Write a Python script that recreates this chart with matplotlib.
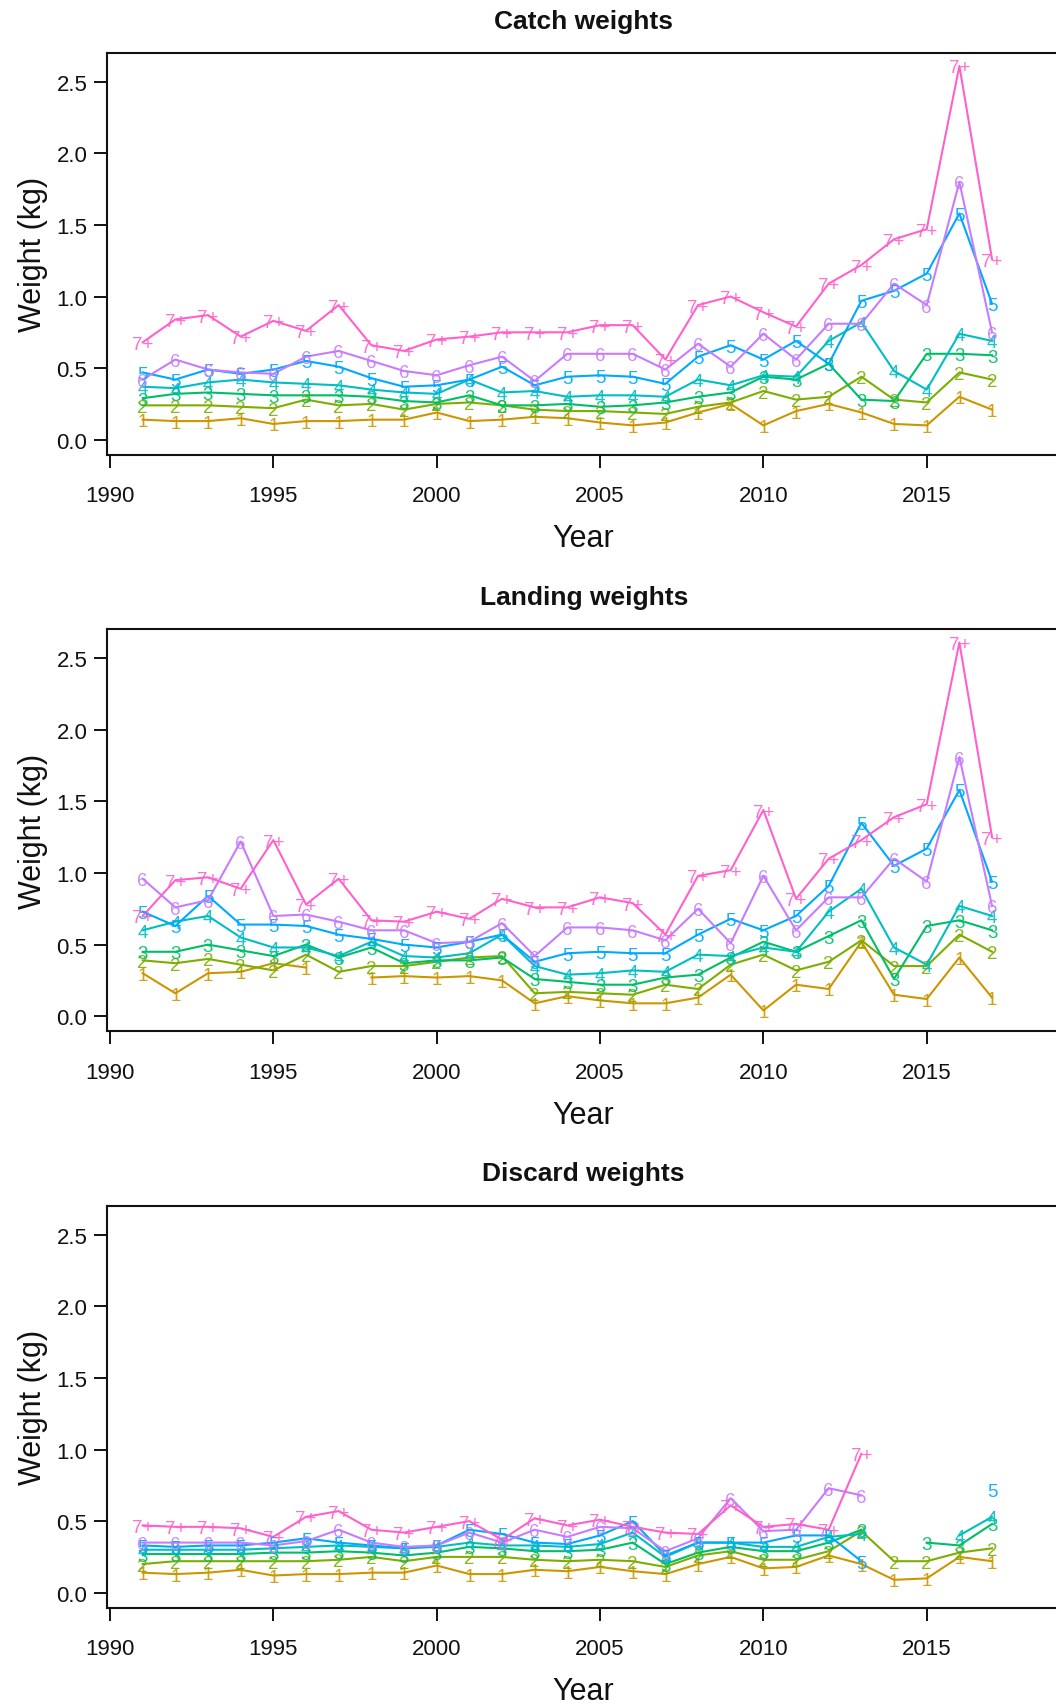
import numpy as np
import matplotlib
matplotlib.use("Agg")
import matplotlib.pyplot as plt

plt.rcParams["font.family"] = ["Liberation Sans", "DejaVu Sans"]

nan = np.nan

years = list(range(1991, 2018))
ages = ["1", "2", "3", "4", "5", "6", "7+"]
age_colors = ["#CD9600", "#7CAE00", "#00BE67", "#00BFC4", "#00A9FF", "#C77CFF", "#FF61CC"]
panel_titles = ["Catch weights", "Landing weights", "Discard weights"]
y_ticks = [0.0, 0.5, 1.0, 1.5, 2.0, 2.5]
y_tick_labels = ["0.0", "0.5", "1.0", "1.5", "2.0", "2.5"]
x_ticks = [1990, 1995, 2000, 2005, 2010, 2015]

# ---- Catch mean weights at age (kg), 1991-2017 ----
catch_a1 = [0.14, 0.13, 0.13, 0.15, 0.11, 0.13, 0.13, 0.14, 0.14, 0.19, 0.13, 0.14, 0.16, 0.15,
            0.12, 0.10, 0.12, 0.19, 0.25, 0.10, 0.20, 0.25, 0.19, 0.11, 0.10, 0.30, 0.21]
catch_a2 = [0.24, 0.24, 0.24, 0.23, 0.22, 0.28, 0.24, 0.25, 0.21, 0.25, 0.26, 0.24, 0.21, 0.20,
            0.20, 0.19, 0.18, 0.23, 0.26, 0.34, 0.28, 0.30, 0.44, 0.28, 0.26, 0.47, 0.42]
catch_a3 = [0.29, 0.32, 0.33, 0.32, 0.31, 0.31, 0.31, 0.30, 0.27, 0.26, 0.31, 0.24, 0.24, 0.25,
            0.23, 0.24, 0.26, 0.30, 0.33, 0.44, 0.42, 0.53, 0.28, 0.27, 0.60, 0.60, 0.59]
catch_a4 = [0.37, 0.36, 0.40, 0.42, 0.40, 0.39, 0.38, 0.35, 0.33, 0.32, 0.42, 0.33, 0.34, 0.30,
            0.31, 0.31, 0.30, 0.42, 0.38, 0.45, 0.44, 0.69, 0.82, 0.48, 0.35, 0.74, 0.69]
catch_a5 = [0.47, 0.42, 0.49, 0.46, 0.49, 0.55, 0.51, 0.43, 0.37, 0.38, 0.42, 0.51, 0.38, 0.44,
            0.45, 0.44, 0.39, 0.58, 0.66, 0.56, 0.69, 0.53, 0.97, 1.04, 1.16, 1.58, 0.95]
catch_a6 = [0.42, 0.56, 0.49, 0.47, 0.46, 0.58, 0.62, 0.55, 0.48, 0.45, 0.52, 0.58, 0.41, 0.60,
            0.60, 0.60, 0.49, 0.67, 0.51, 0.74, 0.56, 0.81, 0.81, 1.09, 0.94, 1.80, 0.75]
catch_a7 = [0.68, 0.84, 0.87, 0.72, 0.83, 0.76, 0.94, 0.66, 0.62, 0.70, 0.72, 0.75, 0.75, 0.75,
            0.80, 0.80, 0.56, 0.94, 1.00, 0.89, 0.79, 1.09, 1.22, 1.40, 1.47, 2.61, 1.26]

# ---- Landing mean weights at age (kg), 1991-2017 ----
landing_a1 = [0.30, 0.16, 0.30, 0.31, 0.37, 0.34, nan, 0.27, 0.28, 0.27, 0.28, 0.25, 0.09, 0.14,
              0.11, 0.09, 0.09, 0.13, 0.29, 0.04, 0.22, 0.19, 0.52, 0.15, 0.12, 0.41, 0.13]
landing_a2 = [0.39, 0.37, 0.40, 0.36, 0.32, 0.43, 0.31, 0.35, 0.35, 0.38, 0.41, 0.42, 0.16, 0.17,
              0.16, 0.15, 0.22, 0.19, 0.36, 0.43, 0.32, 0.38, 0.53, 0.35, 0.35, 0.57, 0.45]
landing_a3 = [0.45, 0.45, 0.50, 0.46, 0.42, 0.50, 0.41, 0.48, 0.37, 0.39, 0.39, 0.41, 0.26, 0.24,
              0.22, 0.22, 0.27, 0.29, 0.41, 0.52, 0.45, 0.56, 0.67, 0.26, 0.63, 0.67, 0.60]
landing_a4 = [0.60, 0.66, 0.70, 0.55, 0.48, 0.48, 0.42, 0.52, 0.42, 0.41, 0.44, 0.57, 0.35, 0.29,
              0.30, 0.32, 0.31, 0.43, 0.42, 0.48, 0.45, 0.73, 0.89, 0.48, 0.36, 0.77, 0.70]
landing_a5 = [0.73, 0.63, 0.84, 0.64, 0.64, 0.63, 0.57, 0.54, 0.50, 0.48, 0.52, 0.57, 0.38, 0.44,
              0.45, 0.44, 0.44, 0.57, 0.68, 0.60, 0.70, 0.91, 1.35, 1.05, 1.17, 1.58, 0.94]
landing_a6 = [0.96, 0.76, 0.81, 1.22, 0.70, 0.71, 0.66, 0.60, 0.60, 0.51, 0.52, 0.65, 0.42, 0.62,
              0.62, 0.60, 0.53, 0.75, 0.51, 0.98, 0.60, 0.83, 0.83, 1.10, 0.94, 1.81, 0.77]
landing_a7 = [0.70, 0.95, 0.97, 0.89, 1.23, 0.78, 0.96, 0.67, 0.66, 0.73, 0.68, 0.82, 0.76, 0.76,
              0.83, 0.79, 0.57, 0.98, 1.02, 1.44, 0.82, 1.10, 1.23, 1.39, 1.48, 2.61, 1.25]

# ---- Discard mean weights at age (kg), 1991-2017 ----
discard_a1 = [0.14, 0.13, 0.14, 0.16, 0.12, 0.13, 0.13, 0.14, 0.14, 0.19, 0.13, 0.13, 0.16, 0.15,
              0.18, 0.15, 0.13, 0.20, 0.25, 0.17, 0.18, 0.26, 0.20, 0.09, 0.10, 0.25, 0.22]
discard_a2 = [0.20, 0.22, 0.22, 0.22, 0.22, 0.22, 0.23, 0.25, 0.22, 0.25, 0.25, 0.25, 0.23, 0.22,
              0.23, 0.22, 0.18, 0.26, 0.29, 0.23, 0.23, 0.29, 0.43, 0.22, 0.22, 0.28, 0.31]
discard_a3 = [0.27, 0.27, 0.27, 0.27, 0.28, 0.28, 0.29, 0.28, 0.26, 0.28, 0.32, 0.31, 0.29, 0.29,
              0.30, 0.35, 0.20, 0.28, 0.32, 0.29, 0.29, 0.35, 0.44, nan, 0.35, 0.33, 0.48]
discard_a4 = [0.30, 0.30, 0.30, 0.30, 0.31, 0.32, 0.33, 0.32, 0.31, 0.32, 0.35, 0.33, 0.33, 0.32,
              0.34, 0.42, 0.25, 0.35, 0.35, 0.32, 0.32, 0.39, 0.41, nan, nan, 0.40, 0.53]
discard_a5 = [0.33, 0.32, 0.33, 0.33, 0.35, 0.38, 0.35, 0.33, 0.31, 0.33, 0.44, 0.41, 0.35, 0.34,
              0.40, 0.50, 0.26, 0.35, 0.35, 0.35, 0.40, 0.40, 0.22, nan, nan, nan, 0.72]
discard_a6 = [0.35, 0.35, 0.35, 0.35, 0.33, 0.36, 0.44, 0.35, 0.32, 0.33, 0.42, 0.35, 0.44, 0.39,
              0.46, 0.45, 0.29, 0.38, 0.66, 0.43, 0.44, 0.73, 0.68, nan, nan, nan, nan]
discard_a7 = [0.47, 0.46, 0.46, 0.45, 0.39, 0.53, 0.57, 0.44, 0.42, 0.46, 0.50, 0.37, 0.52, 0.47,
              0.51, 0.46, 0.42, 0.41, 0.61, 0.46, 0.48, 0.44, 0.97, nan, nan, nan, nan]

panels = [
    [catch_a1, catch_a2, catch_a3, catch_a4, catch_a5, catch_a6, catch_a7],
    [landing_a1, landing_a2, landing_a3, landing_a4, landing_a5, landing_a6, landing_a7],
    [discard_a1, discard_a2, discard_a3, discard_a4, discard_a5, discard_a6, discard_a7],
]

# ---- layout (pixel grid of a 1056 x 1706 canvas) ----
W, H = 1056, 1706
fig = plt.figure(figsize=(W / 100, H / 100), dpi=100)
fig.patch.set_facecolor("white")

ax_left, ax_right = 107.4, 1060.0
panel_step = 576.5
px2pt = 72 / 100

for i, (title, series) in enumerate(zip(panel_titles, panels)):
    zero_px = 440.7 + panel_step * i
    top_px = zero_px - 387.2
    bot_px = zero_px + 14.9
    ax = fig.add_axes([ax_left / W, 1 - bot_px / H,
                       (ax_right - ax_left) / W, (bot_px - top_px) / H])
    ax.set_xlim(1989.92, 2019.08)
    ax.set_ylim(-0.104, 2.704)

    for label, vals, col in zip(ages, series, age_colors):
        vals = np.asarray(vals, dtype=float)
        ax.plot(years, vals, color=col, lw=1.5, zorder=2)
        for yr, v in zip(years, vals):
            if np.isfinite(v):
                ax.text(yr, v, label, color=col, fontsize=13.5, ha="center",
                        va="center_baseline", zorder=3, alpha=0.9)

    for sp in ax.spines.values():
        sp.set_linewidth(1.5)
        sp.set_color("#111111")

    ax.set_yticks(y_ticks)
    ax.set_yticklabels(y_tick_labels)
    ax.set_xticks(x_ticks)
    ax.tick_params(axis="both", direction="out", length=9.4, width=1.4,
                   labelsize=16, colors="#111111")
    ax.tick_params(axis="y", pad=5)
    ax.tick_params(axis="x", pad=12.5)

    ax.annotate(title, xy=(0.5, 1), xycoords="axes fraction",
                xytext=(0, 32.0 * px2pt), textcoords="offset points",
                ha="center", va="center", fontsize=19, fontweight="bold",
                color="#111111")
    ax.annotate("Year", xy=(0.5, 0), xycoords="axes fraction",
                xytext=(0, -83.5 * px2pt), textcoords="offset points",
                ha="center", va="center", fontsize=22, color="#111111")
    ax.annotate("Weight (kg)", xy=(0, 0.5), xycoords="axes fraction",
                xytext=(-74.4 * px2pt, 0), textcoords="offset points",
                ha="center", va="center", rotation=90, fontsize=22,
                color="#111111")

fig.savefig("out.png", dpi=100, facecolor="white")
